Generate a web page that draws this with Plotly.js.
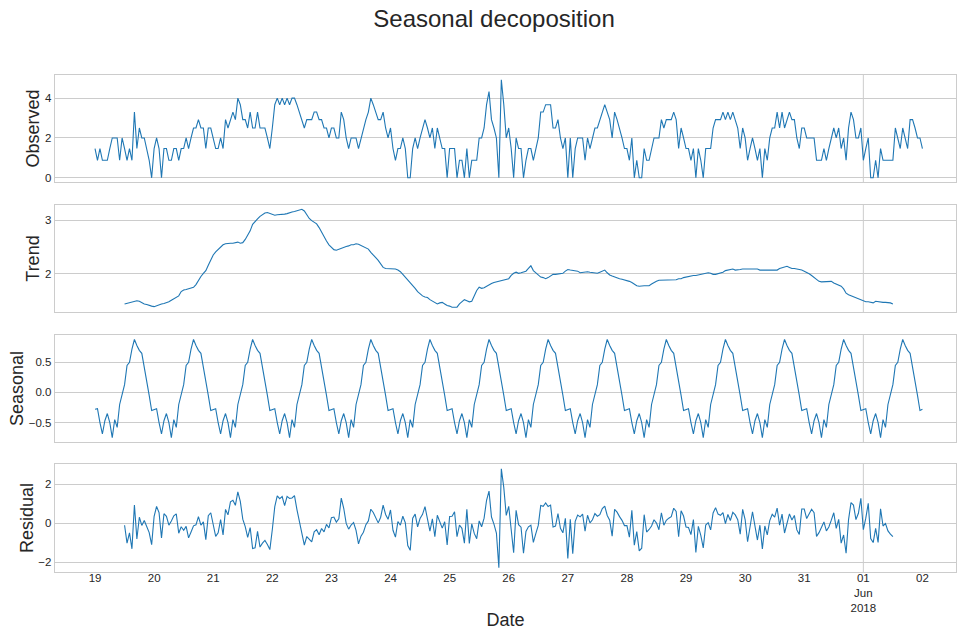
<!DOCTYPE html>
<html>
<head>
<meta charset="utf-8">
<script src="https://cdn.plot.ly/plotly-3.0.1.min.js"></script>
<style>
  html, body { margin: 0; padding: 0; background: #ffffff; }
  #chart { width: 958px; height: 630px; }
</style>
</head>
<body>
<div id="chart"></div>
<script>
// Hourly series, starting 2018-05-19 00:00.
const startUTC = Date.UTC(2018, 4, 19, 0, 0);

// Observed values, one per hour (each row = one day).
const observed = [
  1.47,0.88,1.47,0.88,0.88,0.88,1.47,2.0,2.0,2.0,0.88,2.0,1.47,0.88,1.47,0.88,3.3,1.47,2.5,2.0,2.0,1.47,0.88,0,
  1.47,2.0,1.47,0,1.47,1.47,0.88,0.88,1.47,1.47,0.88,1.47,1.47,2.0,1.47,2.0,2.5,2.5,2.92,2.5,2.5,1.47,2.5,2.5,
  2.0,1.47,1.47,2.0,1.47,2.92,2.5,2.92,3.3,2.92,4.0,3.67,2.92,2.92,2.5,3.3,2.5,2.5,3.3,2.5,2.5,2.5,2.0,1.47,
  2.5,3.67,4.0,3.67,4.0,3.67,4.0,3.67,4.0,4.0,3.67,3.3,2.92,2.5,2.92,2.92,2.92,3.3,3.3,2.92,2.92,2.5,2.5,2.0,
  2.5,2.5,2.0,2.0,3.3,2.92,2.0,1.47,2.0,2.0,2.0,1.47,2.0,2.5,2.92,3.3,4.0,3.67,3.3,2.92,2.92,3.3,2.5,2.0,
  2.5,1.47,0.88,1.47,1.47,2.0,1.47,0,0,1.47,2.0,1.47,2.0,2.5,2.92,2.5,2.0,2.5,1.47,2.5,2.0,1.47,1.47,0,
  1.47,1.47,1.47,0,0.88,0.88,0,1.47,0,0.88,0.88,0.88,2.0,2.0,2.5,3.67,4.33,2.92,2.5,2.0,0,4.92,3.67,2.0,
  2.5,1.47,0,2.0,1.47,1.47,0,0.88,1.47,1.47,0.88,1.47,2.0,3.3,3.3,3.67,3.67,3.67,2.5,2.5,2.92,2.0,1.47,2.0,
  0,2.0,0,1.47,2.0,2.0,2.0,0.88,2.0,1.47,2.0,2.5,2.5,2.92,3.3,3.67,3.3,2.92,2.0,3.3,2.92,2.5,2.0,1.47,
  1.47,0.88,2.0,0,0.88,0,0,1.47,0.88,0.88,1.47,2.0,2.0,2.0,2.92,2.5,2.92,2.92,2.92,3.3,2.92,1.47,2.5,2.0,
  1.47,1.47,0.88,1.47,0,1.47,0.88,0,1.47,1.47,1.47,2.5,2.92,2.92,2.92,3.3,2.92,3.3,2.92,3.3,2.92,2.5,1.47,2.5,
  2.0,0.88,1.47,2.0,1.47,0.88,1.47,0,1.47,0.88,2.0,2.5,2.5,3.3,2.5,3.3,2.5,2.92,3.3,2.92,2.92,2.0,1.47,2.5,
  2.5,2.0,2.0,2.0,2.0,0.88,0.88,0.88,1.47,0.88,1.47,2.0,2.5,2.0,2.5,1.47,2.0,0.88,2.5,3.3,2.92,2.0,2.0,2.5,
  0.88,1.47,2.0,0,0,0.88,0,1.47,0.88,0.88,0.88,0.88,0.88,2.5,2.0,1.47,2.5,2.0,1.47,2.92,2.92,2.5,2.0,2.0,
  1.47
];

// Trend and residual are defined from hour 12 onward (centred 24-hour window).
const trendOffset = 12;

const trend = [
  1.44,1.45,1.46,1.47,1.48,1.50,1.49,1.46,1.44,1.43,1.41,1.40,1.39,1.41,1.42,1.44,1.45,1.46,1.48,1.51,1.54,1.57,1.59,1.67,
  1.70,1.71,1.72,1.73,1.75,1.80,1.88,1.95,2.01,2.06,2.16,2.26,2.35,2.41,2.46,2.50,2.54,2.56,2.57,2.57,2.57,2.58,2.59,2.57,
  2.58,2.64,2.72,2.80,2.92,2.98,3.02,3.07,3.10,3.13,3.14,3.12,3.10,3.09,3.10,3.10,3.10,3.11,3.12,3.14,3.15,3.16,3.17,3.19,
  3.20,3.17,3.10,3.03,2.99,2.96,2.93,2.86,2.77,2.69,2.61,2.54,2.49,2.45,2.44,2.46,2.48,2.50,2.51,2.52,2.54,2.54,2.56,2.55,
  2.53,2.51,2.49,2.46,2.40,2.34,2.30,2.25,2.19,2.12,2.10,2.10,2.10,2.10,2.09,2.07,2.04,1.99,1.94,1.89,1.84,1.79,1.73,1.67,
  1.62,1.59,1.57,1.56,1.52,1.49,1.46,1.44,1.46,1.47,1.44,1.41,1.40,1.38,1.38,1.38,1.44,1.49,1.52,1.50,1.48,1.49,1.60,1.69,
  1.75,1.73,1.74,1.77,1.80,1.82,1.84,1.85,1.86,1.88,1.89,1.90,1.91,1.97,2.01,2.03,2.01,2.02,2.04,2.05,2.10,2.15,2.06,2.02,
  1.98,1.94,1.93,1.91,1.93,1.96,1.99,1.99,2.00,2.01,2.01,2.05,2.08,2.07,2.06,2.06,2.05,2.02,2.03,2.04,2.04,2.03,2.02,2.02,
  2.01,2.03,2.05,2.07,2.02,1.98,1.96,1.94,1.93,1.91,1.90,1.89,1.87,1.86,1.84,1.81,1.78,1.77,1.78,1.78,1.78,1.78,1.81,1.84,
  1.86,1.88,1.88,1.88,1.89,1.88,1.88,1.88,1.89,1.91,1.91,1.93,1.94,1.96,1.96,1.97,1.97,1.98,2.00,2.01,2.01,2.02,2.01,1.99,
  1.99,2.00,2.01,2.03,2.06,2.07,2.08,2.09,2.07,2.07,2.08,2.09,2.09,2.10,2.10,2.10,2.09,2.09,2.07,2.07,2.06,2.06,2.06,2.06,
  2.06,2.07,2.10,2.11,2.12,2.14,2.12,2.10,2.10,2.09,2.09,2.07,2.05,2.03,2.00,1.97,1.93,1.90,1.86,1.85,1.85,1.85,1.86,1.86,
  1.83,1.81,1.80,1.77,1.72,1.64,1.61,1.59,1.57,1.56,1.54,1.52,1.49,1.48,1.48,1.47,1.46,1.49,1.48,1.48,1.47,1.47,1.47,1.46,
  1.44
];

// Daily seasonal profile, hour 0 .. hour 23; the component repeats it every day.
const seasonalProfile = [
  -0.28,-0.27,-0.50,-0.69,-0.47,-0.35,-0.50,-0.75,-0.45,-0.58,-0.20,-0.02,
   0.13, 0.45, 0.50, 0.72, 0.88, 0.78, 0.70, 0.65, 0.42, 0.25,-0.05,-0.30
];

const residual = [
  -0.10,-1.02,-0.49,-1.31,0.94,-0.81,0.31,-0.11,0.14,-0.21,-0.48,-1.10,0.36,0.86,0.55,-0.75,0.49,0.36,-0.10,0.12,0.38,0.48,-0.51,-0.18,
  -0.36,-0.16,-0.75,-0.45,-0.13,-0.08,0.34,-0.10,0.07,-0.84,0.39,0.54,-0.07,-0.67,-0.49,0.19,-0.60,0.71,0.43,1.10,1.18,0.92,1.61,1.12,
  0.21,-0.17,-0.72,-0.22,-1.30,-1.26,-0.42,-1.22,-1.02,-0.88,-1.09,-1.35,-0.32,0.85,1.40,1.26,1.37,0.91,1.38,1.28,1.30,1.42,0.70,0.13,
  -0.41,-1.12,-0.68,-0.83,-0.95,-0.44,-0.33,-0.59,-0.27,-0.44,-0.06,-0.24,0.29,0.32,0.06,0.23,1.29,0.77,-0.01,-0.30,-0.09,0.04,-0.36,-1.06,
  -0.66,-0.46,-0.07,0.12,0.72,0.55,0.30,0.02,0.31,0.93,0.45,0.20,0.68,-0.36,-0.71,0.09,-0.10,0.36,0.03,-1.14,-1.39,0.26,0.47,-0.18,
  0.25,0.46,0.85,0.22,-0.40,0.23,-0.69,0.41,0.12,-0.25,0.08,-1.11,0.35,0.36,0.59,-0.69,-0.09,-0.26,-1.02,0.72,-1.03,-0.03,-0.52,-0.79,
  0.12,-0.18,0.26,1.18,1.65,0.32,-0.04,-0.50,-2.28,2.79,1.83,0.40,0.87,-0.23,-1.51,0.66,-0.07,-0.20,-1.54,-0.42,-0.18,-0.10,-0.98,-0.53,
  -0.11,0.91,0.87,1.04,0.86,0.93,-0.19,-0.14,0.50,-0.26,-0.49,0.25,-1.80,0.20,-1.56,0.10,0.42,0.33,0.47,-0.41,0.41,0.02,0.18,0.50,
  0.36,0.44,0.75,0.88,0.40,0.16,-0.66,0.71,0.57,0.34,0.15,-0.12,-0.12,-0.71,0.66,-1.12,-0.43,-1.42,-1.28,0.44,-0.45,-0.32,-0.14,0.18,
  0.01,-0.33,0.54,-0.10,0.15,0.26,0.34,0.77,0.61,-0.69,0.64,0.37,-0.19,-0.22,-0.58,0.19,-1.50,-0.16,-0.62,-1.26,-0.09,0.03,-0.34,0.53,
  0.80,0.47,0.41,0.55,-0.02,0.45,0.14,0.56,0.43,0.18,-0.56,0.71,0.19,-0.95,-0.13,0.59,-0.15,-0.86,-0.10,-1.32,-0.14,-0.60,0.14,0.46,
  0.31,0.78,-0.10,0.47,-0.50,0.00,0.48,0.17,0.40,-0.34,-0.57,0.73,0.73,0.24,0.50,0.72,0.54,-0.67,-0.48,-0.22,0.07,-0.39,-0.19,0.16,
  0.54,-0.26,0.20,-1.02,-0.60,-1.54,0.19,1.06,0.93,0.19,0.51,1.28,-0.33,0.26,1.02,-0.78,-0.99,-0.26,-0.98,0.74,-0.14,-0.01,-0.39,-0.56,
  -0.69
];

// Day ticks along the shared date axis.
const tickDays = [
  '2018-05-19','2018-05-20','2018-05-21','2018-05-22','2018-05-23','2018-05-24','2018-05-25',
  '2018-05-26','2018-05-27','2018-05-28','2018-05-29','2018-05-30','2018-05-31','2018-06-01','2018-06-02'
];
const tickLabels = [
  '19','20','21','22','23','24','25','26','27','28','29','30','31','01<br>Jun<br>2018','02'
];
const monthTick = '2018-06-01';

const panelTitles = ['Observed', 'Trend', 'Seasonal', 'Residual'];
const chartTitle = 'Seasonal decoposition';
const dateTitle = 'Date';

// ---- build hourly timestamps ----
function pad(n) { return (n < 10 ? '0' : '') + n; }
function hourStamp(i) {
  const d = new Date(startUTC + i * 3600000);
  return d.getUTCFullYear() + '-' + pad(d.getUTCMonth() + 1) + '-' + pad(d.getUTCDate()) +
         ' ' + pad(d.getUTCHours()) + ':00';
}
const hours = observed.map((_, i) => hourStamp(i));
const trendHours = hours.slice(trendOffset, trendOffset + trend.length);
const seasonal = hours.map((_, i) => seasonalProfile[i % seasonalProfile.length]);

// ---- styling ----
const FONT = 'Liberation Sans, Arial, Helvetica, sans-serif';
const INK = '#262626';
const GRID = '#cccccc';
const LINE = { color: '#1f77b4', width: 1.1 };
const xRange = ['2018-05-18 07:45', '2018-06-02 13:38'];

function lineTrace(x, y, xa, ya) {
  return { type: 'scatter', mode: 'lines', x: x, y: y, xaxis: xa, yaxis: ya,
           line: LINE, hoverinfo: 'skip', showlegend: false };
}

const traces = [
  lineTrace(hours, observed, 'x', 'y'),
  lineTrace(trendHours, trend, 'x2', 'y2'),
  lineTrace(hours, seasonal, 'x3', 'y3'),
  lineTrace(trendHours, residual, 'x4', 'y4')
];

function xAxis(anchor, withLabels) {
  const ax = {
    type: 'date', anchor: anchor, range: xRange,
    tickmode: 'array', tickvals: tickDays, ticktext: tickLabels,
    showticklabels: withLabels, ticks: '', ticklabelstandoff: -5,
    showgrid: false, zeroline: false,
    showline: true, mirror: true, linecolor: GRID, linewidth: 1.25,
    tickfont: { family: FONT, size: 11.5, color: INK },
    automargin: false, fixedrange: true
  };
  if (withLabels) {
    ax.title = { text: dateTitle, font: { family: FONT, size: 18, color: INK }, standoff: 2 };
  }
  return ax;
}

function yAxis(anchor, domain, range, tickvals, title, fmt) {
  return {
    anchor: anchor, domain: domain, range: range,
    tickmode: 'array', tickvals: tickvals, tickformat: fmt || '',
    ticks: '', showgrid: true, gridcolor: GRID, gridwidth: 1,
    zeroline: false, showline: true, mirror: true, linecolor: GRID, linewidth: 1.25,
    tickfont: { family: FONT, size: 11.5, color: INK },
    title: { text: title, font: { family: FONT, size: 18, color: INK }, standoff: 0 },
    automargin: false, fixedrange: true
  };
}

const monthLines = ['x', 'x2', 'x3', 'x4'].map((xa, k) => ({
  type: 'line', layer: 'below', xref: xa, yref: (k === 0 ? 'y' : 'y' + (k + 1)) + ' domain',
  x0: monthTick, x1: monthTick, y0: 0, y1: 1,
  line: { color: GRID, width: 1 }
}));

const layout = {
  width: 958, height: 630,
  margin: { l: 55, r: 2, t: 75, b: 58, pad: 0 },
  paper_bgcolor: '#ffffff', plot_bgcolor: '#ffffff',
  font: { family: FONT, color: INK },
  title: {
    text: chartTitle, font: { family: FONT, size: 24, color: INK },
    xref: 'container', x: 0.5157, xanchor: 'center',
    yref: 'container', y: 0.971, yanchor: 'middle'
  },
  xaxis:  xAxis('y', false),
  xaxis2: xAxis('y2', false),
  xaxis3: xAxis('y3', false),
  xaxis4: xAxis('y4', true),
  yaxis:  yAxis('x',  [0.7847, 1.0],    [-0.21, 5.16],  [0, 2, 4],        panelTitles[0]),
  yaxis2: yAxis('x2', [0.5231, 0.7384], [1.29, 3.28],   [2, 3],           panelTitles[1]),
  yaxis3: yAxis('x3', [0.2616, 0.4769], [-0.823, 0.955],[-0.5, 0, 0.5],   panelTitles[2], '.1f'),
  yaxis4: yAxis('x4', [0.0, 0.2173],    [-2.50, 3.04],  [-2, 0, 2],       panelTitles[3]),
  shapes: monthLines,
  showlegend: false
};

Plotly.newPlot('chart', traces, layout, { displayModeBar: false, staticPlot: true });
</script>
</body>
</html>
